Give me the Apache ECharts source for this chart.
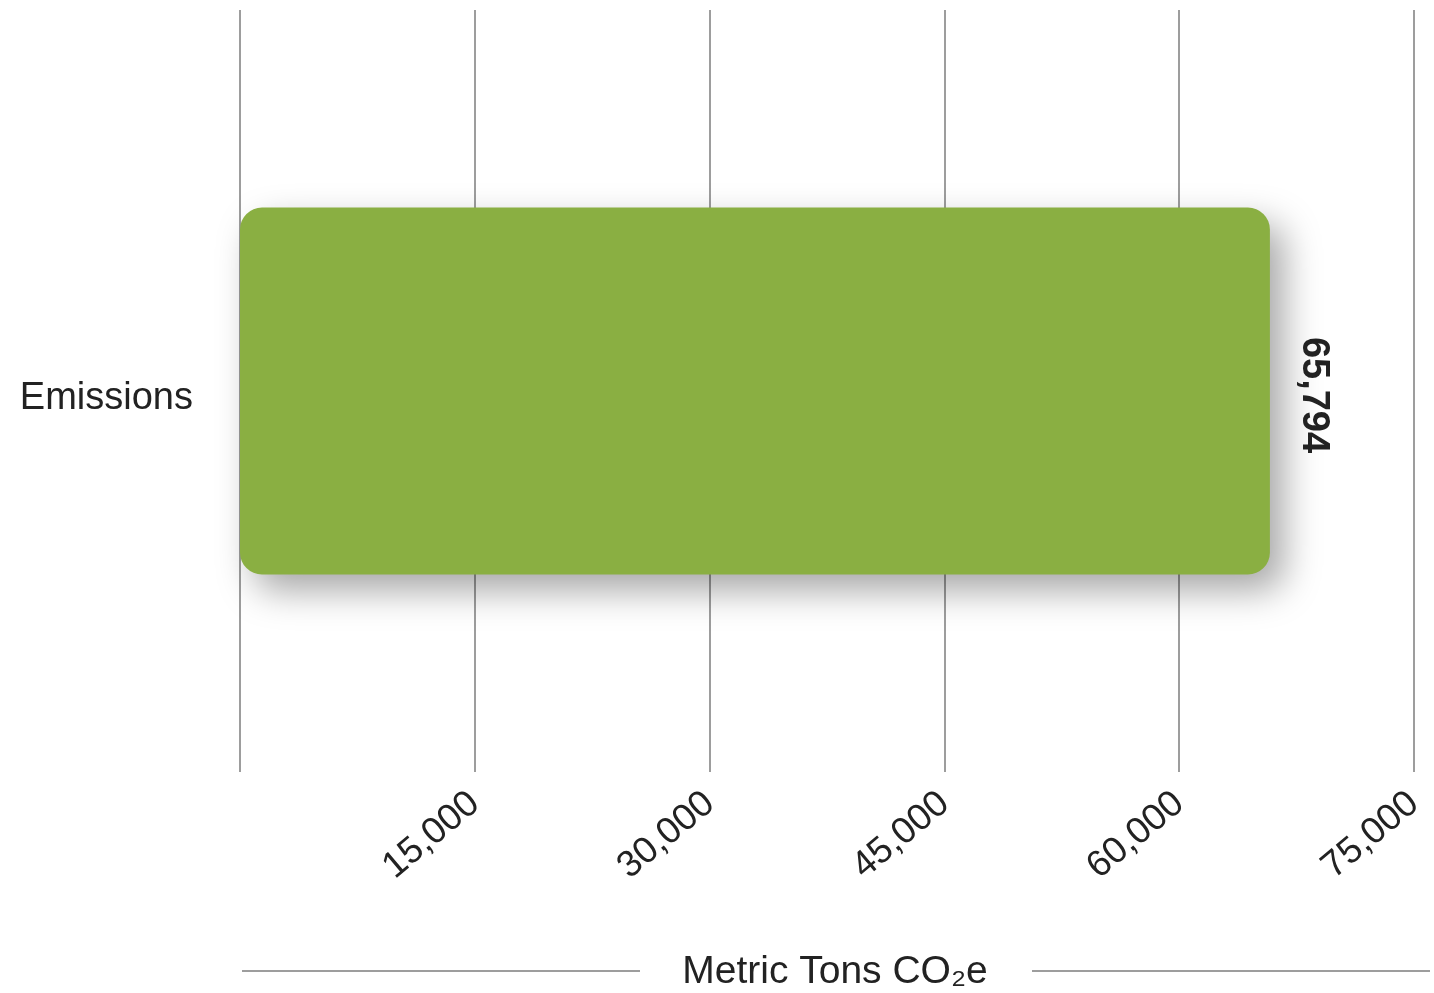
<!DOCTYPE html>
<html>
<head>
<meta charset="utf-8">
<script src="https://cdn.jsdelivr.net/npm/echarts@6/dist/echarts.min.js"></script>
<style>
  html, body { margin: 0; padding: 0; background: #fff; }
  #chart { width: 1434px; height: 993px; }
</style>
</head>
<body>
<div id="chart"></div>
<script>
var categories = ['Emissions'];
var emissions = [65794];
var axisMax = 75000;
var axisStep = 15000;

var chart = echarts.init(document.getElementById('chart'));

function fmtNum(v) {
    return v.toString().replace(/\B(?=(\d{3})+(?!\d))/g, ',');
}

var option = {
    animation: false,
    textStyle: { fontFamily: 'Liberation Sans, Arial, sans-serif' },
    grid: { left: 240, right: 20, top: 10, bottom: 221, outerBoundsMode: 'none', containLabel: false },
    xAxis: {
        type: 'value',
        min: 0,
        max: axisMax,
        interval: axisStep,
        axisLine: { show: false },
        axisTick: { show: false },
        splitLine: { show: true, lineStyle: { color: '#9d9d9d', width: 2 } },
        axisLabel: {
            rotate: 40,
            margin: 27,
            fontSize: 37,
            color: '#222',
            formatter: function (v) { return v === 0 ? '' : fmtNum(v); }
        },
        name: 'Metric Tons CO₂e',
        nameLocation: 'middle',
        nameGap: 181,
        nameTextStyle: { fontSize: 39, color: '#222', padding: [0, 0, 0, 16] }
    },
    yAxis: {
        type: 'category',
        data: categories,
        axisLine: { show: false },
        axisTick: { show: false },
        axisLabel: {
            margin: 47,
            formatter: function (v) { return '{c|' + v + '}'; },
            rich: { c: { fontSize: 38, color: '#222', padding: [16, 0, 0, 0] } }
        }
    },
    series: [{
        type: 'bar',
        data: emissions,
        barWidth: 367,
        itemStyle: {
            color: '#8aaf42',
            borderRadius: 22,
            shadowColor: 'rgba(0,0,0,0.35)',
            shadowBlur: 36,
            shadowOffsetX: 14,
            shadowOffsetY: 16
        },
        label: {
            show: true,
            position: 'right',
            distance: 44,
            rotate: -90,
            align: 'center',
            verticalAlign: 'middle',
            offset: [4, 0],
            fontSize: 38,
            fontWeight: 'bold',
            color: '#222',
            formatter: function (p) { return fmtNum(p.value); }
        }
    }],
    graphic: [
        { type: 'line', shape: { x1: 242, y1: 971, x2: 640, y2: 971 }, style: { stroke: '#9d9d9d', lineWidth: 2 } },
        { type: 'line', shape: { x1: 1032, y1: 971, x2: 1430, y2: 971 }, style: { stroke: '#9d9d9d', lineWidth: 2 } }
    ]
};
chart.setOption(option);
</script>
</body>
</html>
